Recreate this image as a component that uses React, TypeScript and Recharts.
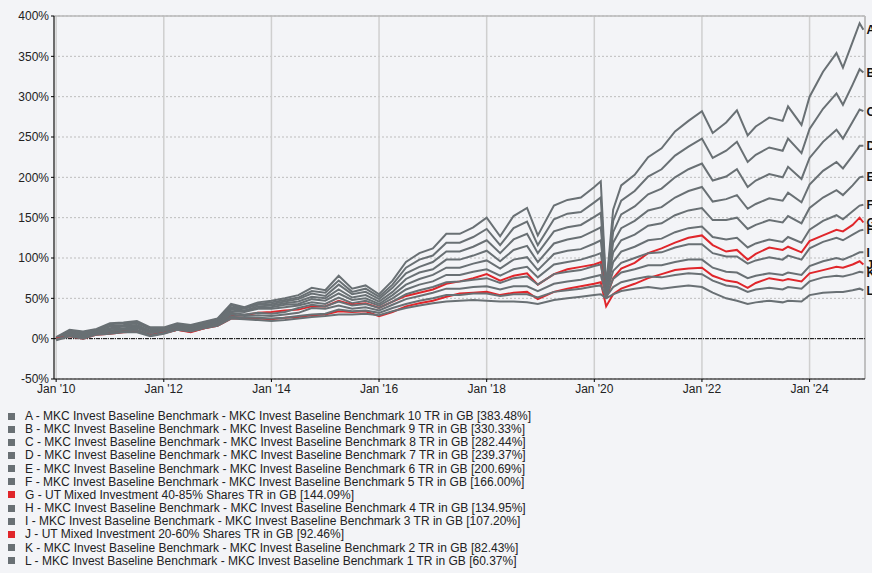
import React from "react";
import { CartesianGrid, Line, LineChart, ReferenceLine, XAxis, YAxis } from "recharts";

const dates = [
  2010, 2010.25, 2010.5, 2010.75, 2011, 2011.25, 2011.5, 2011.75, 2012, 2012.25,
  2012.5, 2012.75, 2013, 2013.25, 2013.5, 2013.75, 2014, 2014.25, 2014.5, 2014.75,
  2015, 2015.25, 2015.5, 2015.75, 2016, 2016.25, 2016.5, 2016.75, 2017, 2017.25,
  2017.5, 2017.75, 2018, 2018.25, 2018.5, 2018.75, 2018.95, 2019.25, 2019.5, 2019.75,
  2020, 2020.12, 2020.22, 2020.35, 2020.5, 2020.75, 2021, 2021.25, 2021.5, 2021.75,
  2022, 2022.2, 2022.45, 2022.65, 2022.85, 2023, 2023.25, 2023.5, 2023.6, 2023.85,
  2024, 2024.25, 2024.5, 2024.62, 2024.8, 2024.93, 2025,
];

// cumulative return (%) per series, one value per date
const serA = [
  2, 11, 9, 12, 19, 20, 22, 14, 14, 19, 17, 21, 25, 43, 39, 45, 47, 50, 54, 63,
  60, 78, 62, 66, 55, 72, 95, 106, 112, 130, 130, 138, 150, 127, 152, 162, 128, 165, 172, 175,
  188, 195, 64, 160, 190, 203, 225, 236, 257, 270, 282, 255, 268, 283, 252, 263, 274, 270, 288, 265,
  300, 331, 354, 336, 368, 391, 383,
];
const serB = [
  1, 10, 8, 11, 18, 19, 20, 13, 13, 18, 16, 20, 24, 41, 38, 43, 45, 48, 51, 59,
  57, 72, 58, 62, 52, 67, 88, 98, 103, 119, 119, 126, 136, 116, 137, 145, 116, 148, 155, 157,
  169, 175, 62, 146, 171, 183, 201, 210, 227, 238, 248, 224, 233, 244, 219, 228, 237, 233, 248, 230,
  260, 285, 304, 290, 315, 334, 330,
];
const serC = [
  1, 9, 7, 10, 16, 17, 19, 12, 12, 17, 15, 19, 23, 39, 37, 42, 43, 46, 49, 56,
  53, 67, 55, 58, 49, 63, 81, 89, 95, 108, 108, 114, 122, 106, 123, 130, 106, 133, 138, 141,
  151, 156, 60, 132, 154, 164, 179, 186, 200, 210, 217, 196, 201, 210, 188, 196, 204, 200, 213, 198,
  224, 244, 259, 248, 269, 284, 282,
];
const serD = [
  1, 8, 6, 10, 15, 16, 17, 10, 11, 16, 14, 18, 22, 38, 35, 40, 41, 44, 46, 52,
  50, 61, 51, 54, 46, 58, 74, 82, 86, 98, 98, 103, 109, 96, 110, 115, 95, 118, 123, 126,
  134, 138, 59, 119, 137, 146, 159, 163, 175, 183, 188, 170, 173, 178, 161, 167, 174, 171, 181, 169,
  191, 208, 219, 211, 227, 239, 239,
];
const serE = [
  0, 7, 5, 9, 13, 15, 16, 9, 10, 15, 13, 17, 21, 36, 34, 38, 39, 42, 43, 49,
  47, 56, 48, 50, 43, 54, 67, 74, 79, 88, 88, 93, 97, 87, 98, 101, 85, 105, 109, 111,
  118, 122, 57, 107, 122, 129, 140, 143, 153, 159, 162, 147, 147, 150, 136, 141, 147, 144, 152, 143,
  162, 175, 184, 178, 190, 200, 201,
];
const serF = [
  0, 7, 4, 8, 12, 13, 14, 8, 10, 15, 13, 17, 20, 34, 33, 37, 37, 39, 41, 45,
  43, 51, 44, 47, 41, 50, 61, 67, 71, 79, 79, 83, 86, 78, 86, 89, 76, 92, 95, 98,
  103, 106, 56, 95, 108, 114, 122, 124, 132, 137, 139, 126, 123, 125, 113, 118, 123, 120, 126, 119,
  135, 146, 153, 148, 158, 165, 166,
];
const serG = [
  0, 4, 1, 6, 8, 10, 10, 5, 7, 11, 8, 13, 17, 28, 29, 32, 33, 35, 36, 40,
  40, 47, 42, 44, 38, 46, 53, 57, 61, 68, 71, 75, 80, 72, 78, 81, 67, 80, 86, 89,
  92, 95, 50, 75, 87, 94, 106, 112, 119, 125, 128, 116, 108, 110, 98, 105, 113, 110, 114, 107,
  121, 128, 135, 133, 141, 150, 144,
];
const serH = [
  0, 6, 3, 7, 10, 12, 13, 7, 9, 14, 12, 16, 19, 32, 30, 32, 31, 33, 38, 42,
  40, 46, 41, 43, 38, 46, 55, 60, 64, 70, 71, 73, 75, 69, 75, 77, 67, 80, 83, 85,
  90, 92, 55, 84, 94, 100, 106, 107, 113, 117, 117, 106, 102, 102, 93, 97, 101, 98, 103, 98,
  112, 120, 125, 122, 129, 134, 135,
];
const serI = [
  -1, 5, 2, 7, 9, 11, 11, 5, 8, 13, 11, 15, 18, 30, 28, 29, 28, 30, 32, 38,
  37, 41, 37, 39, 35, 42, 49, 53, 57, 62, 62, 64, 65, 61, 65, 65, 59, 68, 71, 73,
  77, 79, 53, 74, 82, 86, 91, 91, 95, 98, 98, 88, 83, 82, 75, 78, 81, 79, 82, 79,
  90, 96, 100, 98, 103, 107, 107,
];
const serJ = [
  0, 3, 0, 5, 6, 8, 9, 4, 7, 11, 9, 13, 16, 25, 25, 25, 24, 26, 27, 29,
  30, 34, 33, 34, 28, 33, 40, 44, 47, 52, 56, 57, 58, 54, 57, 58, 49, 58, 62, 65,
  68, 70, 40, 55, 62, 68, 75, 80, 85, 87, 88, 78, 72, 70, 63, 69, 75, 72, 74, 71,
  81, 85, 89, 88, 92, 96, 92,
];
const serK = [
  -1, 4, 1, 6, 7, 9, 10, 4, 7, 12, 10, 14, 17, 27, 26, 26, 25, 26, 28, 30,
  31, 36, 34, 35, 32, 38, 43, 47, 50, 54, 54, 56, 56, 53, 55, 55, 51, 58, 60, 62,
  65, 66, 52, 64, 70, 74, 77, 76, 79, 81, 80, 72, 66, 64, 58, 61, 63, 61, 64, 62,
  71, 76, 78, 77, 80, 83, 82,
];
const serL = [
  -2, 3, 0, 5, 6, 8, 8, 3, 6, 11, 9, 13, 16, 25, 24, 23, 22, 23, 25, 27,
  28, 30, 30, 31, 29, 34, 38, 41, 44, 46, 47, 48, 47, 46, 46, 45, 43, 48, 50, 52,
  54, 55, 50, 55, 59, 62, 64, 62, 64, 66, 64, 57, 50, 47, 43, 45, 47, 45, 47, 46,
  54, 57, 58, 58, 60, 62, 60,
];

const GREY = "#697074";
const RED = "#e0262b";
const BENCH = "MKC Invest Baseline Benchmark - MKC Invest Baseline Benchmark";

const seriesList = [
  { key: "A", values: serA, color: GREY, name: `${BENCH} 10 TR in GB [383.48%]` },
  { key: "B", values: serB, color: GREY, name: `${BENCH} 9 TR in GB [330.33%]` },
  { key: "C", values: serC, color: GREY, name: `${BENCH} 8 TR in GB [282.44%]` },
  { key: "D", values: serD, color: GREY, name: `${BENCH} 7 TR in GB [239.37%]` },
  { key: "E", values: serE, color: GREY, name: `${BENCH} 6 TR in GB [200.69%]` },
  { key: "F", values: serF, color: GREY, name: `${BENCH} 5 TR in GB [166.00%]` },
  { key: "G", values: serG, color: RED, name: "UT Mixed Investment 40-85% Shares TR in GB [144.09%]" },
  { key: "H", values: serH, color: GREY, name: `${BENCH} 4 TR in GB [134.95%]` },
  { key: "I", values: serI, color: GREY, name: `${BENCH} 3 TR in GB [107.20%]` },
  { key: "J", values: serJ, color: RED, name: "UT Mixed Investment 20-60% Shares TR in GB [92.46%]" },
  { key: "K", values: serK, color: GREY, name: `${BENCH} 2 TR in GB [82.43%]` },
  { key: "L", values: serL, color: GREY, name: `${BENCH} 1 TR in GB [60.37%]` },
];

const xTicks = [2010, 2012, 2014, 2016, 2018, 2020, 2022, 2024];
const yTicks = [-50, 0, 50, 100, 150, 200, 250, 300, 350, 400];
const X_MIN = 2009.96;
const X_MAX = 2025.03;

const rows = dates.map((t, i) => {
  const row: Record<string, number> = { t };
  seriesList.forEach((s) => (row[s.key] = s.values[i]));
  return row;
});

const FONT = '"Liberation Sans", Arial, sans-serif';

function endLabel(letter: string) {
  return (props: any) => {
    const { x, y, index } = props;
    if (index !== dates.length - 1) return null;
    return (
      <text key={`lbl-${letter}`} x={x + 3} y={y} dy={4.5} fontSize={12} fontWeight="bold" fill="#111" fontFamily={FONT}>
        {letter}
      </text>
    );
  };
}

export default function App() {
  return (
    <div style={{ position: "absolute", left: 0, top: 0, width: 872, height: 573, background: "#f3f4f7", fontFamily: FONT, overflow: "hidden" }}>
      <LineChart width={872} height={400} data={rows} margin={{ top: 16, right: 7, left: 0, bottom: 0 }} style={{ overflow: "visible" }}>
        <CartesianGrid vertical={false} stroke="#bdbdbd" strokeDasharray="2 2" />
        <CartesianGrid horizontal={false} stroke="#cfcfcf" strokeWidth={1.5} />
        <XAxis
          dataKey="t"
          type="number"
          domain={[X_MIN, X_MAX]}
          ticks={xTicks}
          tickFormatter={(v) => `Jan '${String(v).slice(2)}`}
          tick={{ fontSize: 12, fill: "#222" }}
          stroke="#000"
          tickSize={3}
          height={21}
        />
        <YAxis
          type="number"
          domain={[-50, 400]}
          ticks={yTicks}
          tickFormatter={(v) => `${v}%`}
          tick={{ fontSize: 12, fill: "#222" }}
          stroke="#000"
          tickSize={3}
          width={54}
          interval={0}
        />
        <ReferenceLine y={400} stroke="#b8b8b8" strokeWidth={1.5} />
        <ReferenceLine x={X_MAX} stroke="#b8b8b8" strokeWidth={1.5} />
        <ReferenceLine y={0} stroke="#000" strokeDasharray="4 1 1 1" />
        {seriesList.map((s) => (
          <Line
            key={s.key}
            dataKey={s.key}
            stroke={s.color}
            strokeWidth={2}
            dot={false}
            activeDot={false}
            isAnimationActive={false}
            type="linear"
            label={endLabel(s.key)}
          />
        ))}
      </LineChart>
      {seriesList.map((s, i) => (
        <div
          key={s.key}
          style={{ position: "absolute", left: 8, top: 409.5 + i * 13.15, height: 13, display: "flex", alignItems: "center", whiteSpace: "nowrap", fontSize: 12, color: "#222" }}
        >
          <span style={{ display: "inline-block", width: 7, height: 7, background: s.color, marginRight: 10 }} />
          <span>{`${s.key} - ${s.name}`}</span>
        </div>
      ))}
    </div>
  );
}
